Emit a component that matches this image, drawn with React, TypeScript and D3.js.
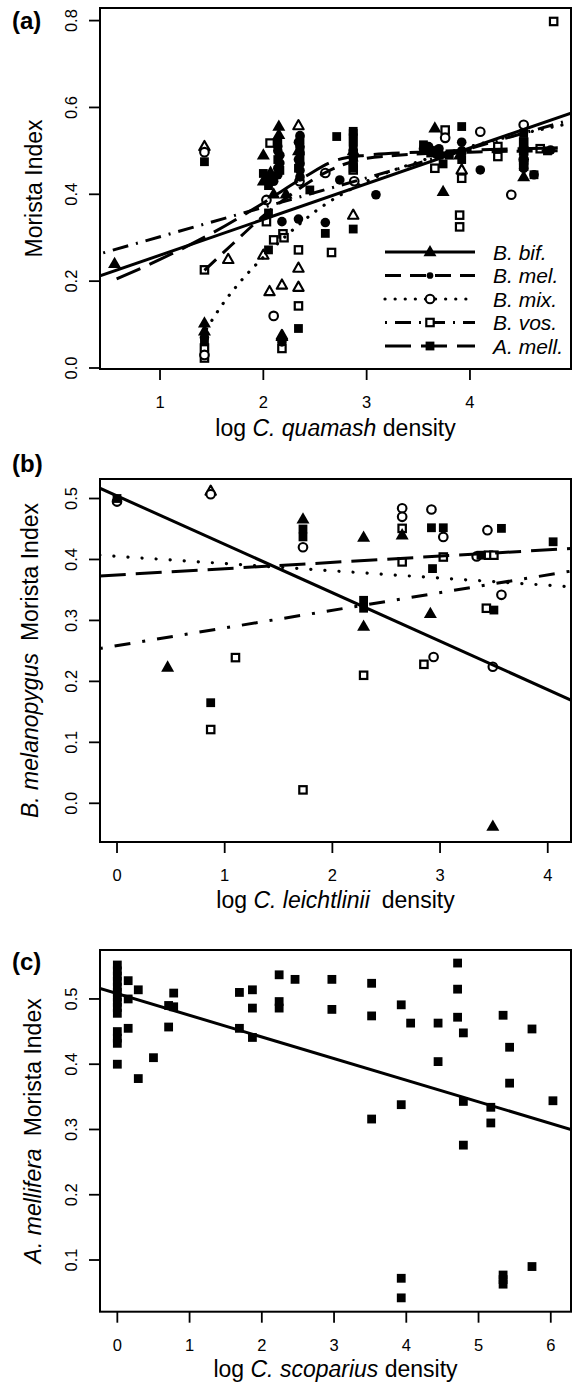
import React from 'react';
import * as d3 from 'd3';

const FONT = '"Liberation Sans", Arial, Helvetica, sans-serif';

// ---------- Panel (a): Morista Index vs log C. quamash density ----------
const aXTicks = [1, 2, 3, 4];
const aYTicks = [0, 0.2, 0.4, 0.6, 0.8];
const aBif = [[0.56,0.24],[1.43,0.103],[1.43,0.085],[2.0,0.49],[2.0,0.43],[2.15,0.556],[2.15,0.537],[2.1,0.40],[2.22,0.40],[2.18,0.072],[2.34,0.50],[3.66,0.552],[3.74,0.406],[4.52,0.44],[3.9,0.49],[2.87,0.50],[2.07,0.45]];
const aMel = [[2.16,0.49],[2.16,0.472],[2.1,0.43],[2.18,0.337],[2.34,0.343],[2.6,0.335],[2.34,0.52],[2.34,0.48],[2.74,0.433],[3.09,0.399],[2.87,0.47],[3.55,0.505],[3.92,0.50],[4.1,0.456],[4.52,0.47],[4.62,0.445],[4.78,0.502],[1.43,0.07],[2.18,0.06],
  [2.14,0.51],[2.14,0.50],[2.14,0.46],[2.14,0.445],[2.355,0.535],[2.355,0.51],[2.355,0.495],[2.355,0.47],[2.355,0.455],[2.355,0.44],[2.87,0.50],[2.87,0.485],[3.6,0.51],[3.65,0.50],[3.7,0.505],[3.92,0.52],[3.92,0.495],[4.52,0.46]];
const aMix = [[1.43,0.497],[1.43,0.03],[2.1,0.12],[2.03,0.387],[2.88,0.43],[2.6,0.449],[3.76,0.53],[4.1,0.544],[4.52,0.56],[4.4,0.399],[2.35,0.43],[4.52,0.48]];
const aVos = [[1.43,0.226],[1.43,0.046],[1.43,0.023],[2.065,0.518],[2.03,0.337],[2.19,0.309],[2.1,0.295],[2.2,0.30],[2.34,0.272],[2.34,0.143],[2.66,0.266],[2.18,0.045],[2.87,0.456],[3.76,0.548],[3.66,0.46],[3.92,0.437],[3.9,0.352],[3.9,0.325],[4.27,0.51],[4.27,0.487],[4.52,0.52],[4.52,0.50],[4.68,0.505],[4.81,0.798],[4.52,0.465]];
const aMell = [[1.43,0.475],[1.43,0.06],[2.0,0.448],[2.05,0.357],[2.05,0.272],[2.34,0.091],[2.71,0.533],[2.6,0.31],[2.87,0.54],[2.87,0.52],[2.87,0.32],[2.45,0.41],[3.55,0.514],[3.7,0.49],[3.92,0.556],[3.74,0.47],[3.92,0.48],[4.52,0.54],[4.62,0.445],[4.75,0.50],[2.16,0.455],[2.34,0.46],
  [2.14,0.52],[2.14,0.48],[2.355,0.525],[2.355,0.50],[2.355,0.48],[2.87,0.545],[2.87,0.53],[2.87,0.51],[2.87,0.495],[2.87,0.475],[2.87,0.46],[2.05,0.435],[2.05,0.42],[3.62,0.495],[3.8,0.49],[4.52,0.52],[4.52,0.50],[4.52,0.48]];
const aOpenTri = [[1.43,0.51],[1.66,0.25],[2.34,0.558],[2.0,0.26],[2.06,0.176],[2.18,0.191],[2.34,0.23],[2.34,0.186],[2.87,0.352],[3.92,0.456],[2.18,0.075]];
const aLineBif = [[0.419,0.212],[4.978,0.587]];
const aLineMel = [[1.43,0.225],[1.7,0.285],[2.0,0.35],[2.3,0.405],[2.6,0.45],[2.9,0.478],[3.3,0.49],[4.0,0.497],[4.85,0.50]];
const aLineMix = [[1.45,0.09],[1.6,0.145],[1.8,0.205],[2.0,0.255],[2.2,0.3],[2.5,0.36],[3.0,0.43],[3.5,0.475],[4.0,0.51],[4.9,0.56]];
const aLineVos = [[0.45,0.265],[4.95,0.57]];
const aLineMell = [[0.58,0.205],[1.0,0.25],[1.5,0.31],[2.0,0.38],[2.4,0.44],[2.7,0.478],[3.0,0.49],[3.5,0.497],[4.85,0.507]];
const legendLabels = ['B. bif.', 'B. mel.', 'B. mix.', 'B. vos.', 'A. mell.'];

// ---------- Panel (b): B. melanopygus Morista Index vs log C. leichtlinii density ----------
const bXTicks = [0, 1, 2, 3, 4];
const bYTicks = [0, 0.1, 0.2, 0.3, 0.4, 0.5];
const bBif = [[0.47,0.223],[1.727,0.466],[2.29,0.436],[2.29,0.29],[2.91,0.311],[3.49,-0.038],[2.648,0.44]];
const bMell = [[0,0.5],[0.87,0.165],[1.727,0.45],[1.727,0.437],[2.29,0.333],[2.29,0.32],[2.92,0.452],[3.03,0.452],[2.93,0.385],[3.57,0.451],[3.5,0.317],[4.05,0.429],[3.38,0.407]];
const bMix = [[0,0.495],[1.727,0.42],[2.648,0.484],[2.648,0.47],[2.92,0.482],[3.03,0.437],[2.94,0.24],[3.44,0.448],[3.57,0.342],[3.49,0.224],[3.34,0.405],[0.87,0.507]];
const bVos = [[0.87,0.121],[1.10,0.239],[1.727,0.022],[2.29,0.21],[2.648,0.451],[2.648,0.396],[3.03,0.404],[2.85,0.228],[3.43,0.32],[3.45,0.407],[3.5,0.407]];
const bOpenTri = [[0.87,0.512]];
const bLineBif = [[-0.16,0.517],[4.22,0.169]];
const bLineMell = [[-0.16,0.373],[4.22,0.418]];
const bLineMix = [[-0.16,0.407],[4.22,0.355]];
const bLineVos = [[-0.16,0.254],[4.22,0.381]];

// ---------- Panel (c): A. mellifera Morista Index vs log C. scoparius density ----------
const cXTicks = [0, 1, 2, 3, 4, 5, 6];
const cYTicks = [0.1, 0.2, 0.3, 0.4, 0.5];
const cMell = [[0,0.552],[0,0.543],[0,0.535],[0,0.527],[0,0.518],[0,0.51],[0,0.503],[0,0.495],[0,0.487],[0,0.478],[0,0.45],[0,0.44],[0,0.432],[0,0.40],
  [0.15,0.528],[0.15,0.50],[0.15,0.455],[0.29,0.514],[0.29,0.378],[0.5,0.41],[0.71,0.457],[0.71,0.49],[0.78,0.509],[0.78,0.488],
  [1.69,0.51],[1.69,0.455],[1.87,0.514],[1.87,0.486],[1.87,0.441],[2.24,0.537],[2.24,0.496],[2.24,0.486],
  [2.46,0.530],[2.97,0.530],[2.97,0.484],[3.52,0.524],[3.52,0.474],[3.52,0.316],[3.93,0.491],[3.93,0.338],[3.93,0.072],[3.93,0.042],
  [4.06,0.463],[4.44,0.463],[4.44,0.404],[4.71,0.555],[4.71,0.515],[4.71,0.472],[4.79,0.448],[4.79,0.343],[4.79,0.276],
  [5.17,0.334],[5.17,0.310],[5.34,0.475],[5.34,0.077],[5.34,0.070],[5.34,0.063],[5.43,0.426],[5.43,0.371],[5.74,0.454],[5.74,0.090],[6.03,0.344]];
const cLine = [[-0.24,0.516],[6.28,0.300]];

const fmt1 = (v: number) => v.toFixed(1);
const fmt0 = (v: number) => String(v);

const dashes: Record<string, string | undefined> = {
  bif: undefined,
  mel: '16,9',
  mix: '0.1,10',
  vos: '2,8,16,8',
  mell: '26,10',
};

function Marker({ type, x, y, scale = 1 }: { type: string; x: number; y: number; scale?: number }) {
  const s = scale;
  switch (type) {
    case 'tri':
      return <path d={`M${x},${y - 7 * s}L${x + 6.5 * s},${y + 4.3 * s}L${x - 6.5 * s},${y + 4.3 * s}Z`} fill="#000" />;
    case 'otri':
      return <path d={`M${x},${y - 5.6 * s}L${x + 5.2 * s},${y + 3.6 * s}L${x - 5.2 * s},${y + 3.6 * s}Z`} fill="#fff" stroke="#000" strokeWidth={2.1} strokeLinejoin="round" />;
    case 'dot':
      return <circle cx={x} cy={y} r={4.8 * s} fill="#000" />;
    case 'ocircle':
      return <circle cx={x} cy={y} r={4.3 * s} fill="#fff" stroke="#000" strokeWidth={2.1} />;
    case 'osquare':
      return <rect x={x - 3.7 * s} y={y - 3.7 * s} width={7.4 * s} height={7.4 * s} fill="#fff" stroke="#000" strokeWidth={2.2} />;
    case 'square':
      return <rect x={x - 4.4 * s} y={y - 4.4 * s} width={8.8 * s} height={8.8 * s} fill="#000" />;
    default:
      return null;
  }
}

type Box = { l: number; r: number; t: number; b: number };

function Axes({ box, xs, ys, xTicks, yTicks, xf, yf, id, children }: any) {
  return (
    <g>
      <defs>
        <clipPath id={id}>
          <rect x={box.l} y={box.t} width={box.r - box.l} height={box.b - box.t} />
        </clipPath>
      </defs>
      <g clipPath={`url(#${id})`}>{children}</g>
      <rect x={box.l} y={box.t} width={box.r - box.l} height={box.b - box.t} fill="none" stroke="#000" strokeWidth={2} />
      {xTicks.map((v: number) => (
        <g key={'x' + v}>
          <line x1={xs(v)} x2={xs(v)} y1={box.b} y2={box.b + 11} stroke="#000" strokeWidth={1.8} />
          <text x={xs(v)} y={box.b + 39} textAnchor="middle" fontSize={16.5} fontFamily={FONT}>{xf(v)}</text>
        </g>
      ))}
      {yTicks.map((v: number) => (
        <g key={'y' + v}>
          <line x1={box.l - 11} x2={box.l} y1={ys(v)} y2={ys(v)} stroke="#000" strokeWidth={1.8} />
          <text transform={`translate(77,${ys(v)}) rotate(-90)`} textAnchor="middle" fontSize={16.5} fontFamily={FONT}>{yf(v)}</text>
        </g>
      ))}
    </g>
  );
}

function Pts({ data, type, xs, ys }: any) {
  return <g>{data.map((d: number[], i: number) => <Marker key={i} type={type} x={xs(d[0])} y={ys(d[1])} />)}</g>;
}

function Curve({ data, xs, ys, kind, smooth, dash }: any) {
  const gen = d3.line<number[]>().x((d) => xs(d[0])).y((d) => ys(d[1]));
  if (smooth) gen.curve(d3.curveMonotoneX);
  return (
    <path d={gen(data) || ''} fill="none" stroke="#000" strokeWidth={kind === 'mix' ? 3.2 : 3}
      strokeDasharray={dash || dashes[kind]} strokeLinecap={kind === 'mix' ? 'round' : 'butt'} />
  );
}

export default function App() {
  const boxA: Box = { l: 100, r: 571, t: 8, b: 369 };
  const boxB: Box = { l: 100, r: 571, t: 479, b: 842 };
  const boxC: Box = { l: 100, r: 571, t: 950, b: 1311.7 };

  const xa = d3.scaleLinear().domain([0.419, 4.978]).range([boxA.l, boxA.r]);
  const ya = d3.scaleLinear().domain([-0.0023, 0.829]).range([boxA.b, boxA.t]);
  const xb = d3.scaleLinear().domain([-0.158, 4.216]).range([boxB.l, boxB.r]);
  const yb = d3.scaleLinear().domain([-0.0635, 0.532]).range([boxB.b, boxB.t]);
  const xc = d3.scaleLinear().domain([-0.24, 6.28]).range([boxC.l, boxC.r]);
  const yc = d3.scaleLinear().domain([0.0208, 0.575]).range([boxC.b, boxC.t]);

  const cx = (box: Box) => (box.l + box.r) / 2;
  const cy = (box: Box) => (box.t + box.b) / 2;

  const legendKinds = ['bif', 'mel', 'mix', 'vos', 'mell'];
  const legendMarkers = ['tri', 'dot', 'ocircle', 'osquare', 'square'];
  const legendY = d3.scaleLinear().domain([0, 4]).range([252, 346]);

  return (
    <svg width={575} height={1383} style={{ position: 'absolute', left: 0, top: 0, background: '#fff' }} fontFamily={FONT}>
      <rect x={0} y={0} width={575} height={1383} fill="#fff" />

      {/* Panel (a) */}
      <text x={12} y={29} fontSize={24} fontWeight="bold">(a)</text>
      <Axes box={boxA} xs={xa} ys={ya} xTicks={aXTicks} yTicks={aYTicks} xf={fmt0} yf={fmt1} id="clipA">
        <Pts data={aOpenTri} type="otri" xs={xa} ys={ya} />
        <Pts data={aVos} type="osquare" xs={xa} ys={ya} />
        <Pts data={aMix} type="ocircle" xs={xa} ys={ya} />
        <Pts data={aMell} type="square" xs={xa} ys={ya} />
        <Pts data={aMel} type="dot" xs={xa} ys={ya} />
        <Pts data={aBif} type="tri" xs={xa} ys={ya} />
        <Curve data={aLineVos} xs={xa} ys={ya} kind="vos" />
        <Curve data={aLineMix} xs={xa} ys={ya} kind="mix" smooth />
        <Curve data={aLineMel} xs={xa} ys={ya} kind="mel" smooth />
        <Curve data={aLineMell} xs={xa} ys={ya} kind="mell" smooth />
        <Curve data={aLineBif} xs={xa} ys={ya} kind="bif" />
      </Axes>
      {legendKinds.map((k, i) => (
        <g key={k}>
          <line x1={385} x2={475} y1={legendY(i)} y2={legendY(i)} stroke="#000" strokeWidth={k === 'mix' ? 3.2 : 3}
            strokeDasharray={dashes[k]} strokeLinecap={k === 'mix' ? 'round' : 'butt'} />
          <Marker type={legendMarkers[i]} x={430} y={legendY(i)} scale={k === 'mel' ? 0.7 : 1} />
          <text x={493} y={legendY(i) + 7.5} fontSize={21} fontStyle="italic">{legendLabels[i]}</text>
        </g>
      ))}
      <text transform={`translate(42,${cy(boxA)}) rotate(-90)`} textAnchor="middle" fontSize={23}>Morista Index</text>
      <text x={cx(boxA)} y={boxA.b + 67} textAnchor="middle" fontSize={23}>
        {'log '}<tspan fontStyle="italic">C. quamash</tspan>{' density'}
      </text>

      {/* Panel (b) */}
      <text x={12} y={472} fontSize={24} fontWeight="bold">(b)</text>
      <Axes box={boxB} xs={xb} ys={yb} xTicks={bXTicks} yTicks={bYTicks} xf={fmt0} yf={fmt1} id="clipB">
        <Pts data={bOpenTri} type="otri" xs={xb} ys={yb} />
        <Pts data={bVos} type="osquare" xs={xb} ys={yb} />
        <Pts data={bMix} type="ocircle" xs={xb} ys={yb} />
        <Pts data={bMell} type="square" xs={xb} ys={yb} />
        <Pts data={bBif} type="tri" xs={xb} ys={yb} />
        <Curve data={bLineVos} xs={xb} ys={yb} kind="vos" dash="3,12,16,12" />
        <Curve data={bLineMix} xs={xb} ys={yb} kind="mix" dash="0.1,14" />
        <Curve data={bLineMell} xs={xb} ys={yb} kind="mell" />
        <Curve data={bLineBif} xs={xb} ys={yb} kind="bif" />
      </Axes>
      <text transform={`translate(38,${cy(boxB)}) rotate(-90)`} textAnchor="middle" fontSize={23}>
        <tspan fontStyle="italic">B. melanopygus</tspan><tspan dx={12}>Morista Index</tspan>
      </text>
      <text x={cx(boxB)} y={boxB.b + 66} textAnchor="middle" fontSize={23}>
        {'log '}<tspan fontStyle="italic">C. leichtlinii</tspan><tspan dx={12}>density</tspan>
      </text>

      {/* Panel (c) */}
      <text x={12} y={970} fontSize={24} fontWeight="bold">(c)</text>
      <Axes box={boxC} xs={xc} ys={yc} xTicks={cXTicks} yTicks={cYTicks} xf={fmt0} yf={fmt1} id="clipC">
        <Pts data={cMell} type="square" xs={xc} ys={yc} />
        <Curve data={cLine} xs={xc} ys={yc} kind="bif" />
      </Axes>
      <text transform={`translate(41,${cy(boxC)}) rotate(-90)`} textAnchor="middle" fontSize={23}>
        <tspan fontStyle="italic">A. mellifera</tspan><tspan dx={12}>Morista Index</tspan>
      </text>
      <text x={cx(boxC)} y={boxC.b + 65.5} textAnchor="middle" fontSize={23}>
        {'log '}<tspan fontStyle="italic">C. scoparius</tspan>{' density'}
      </text>
    </svg>
  );
}
